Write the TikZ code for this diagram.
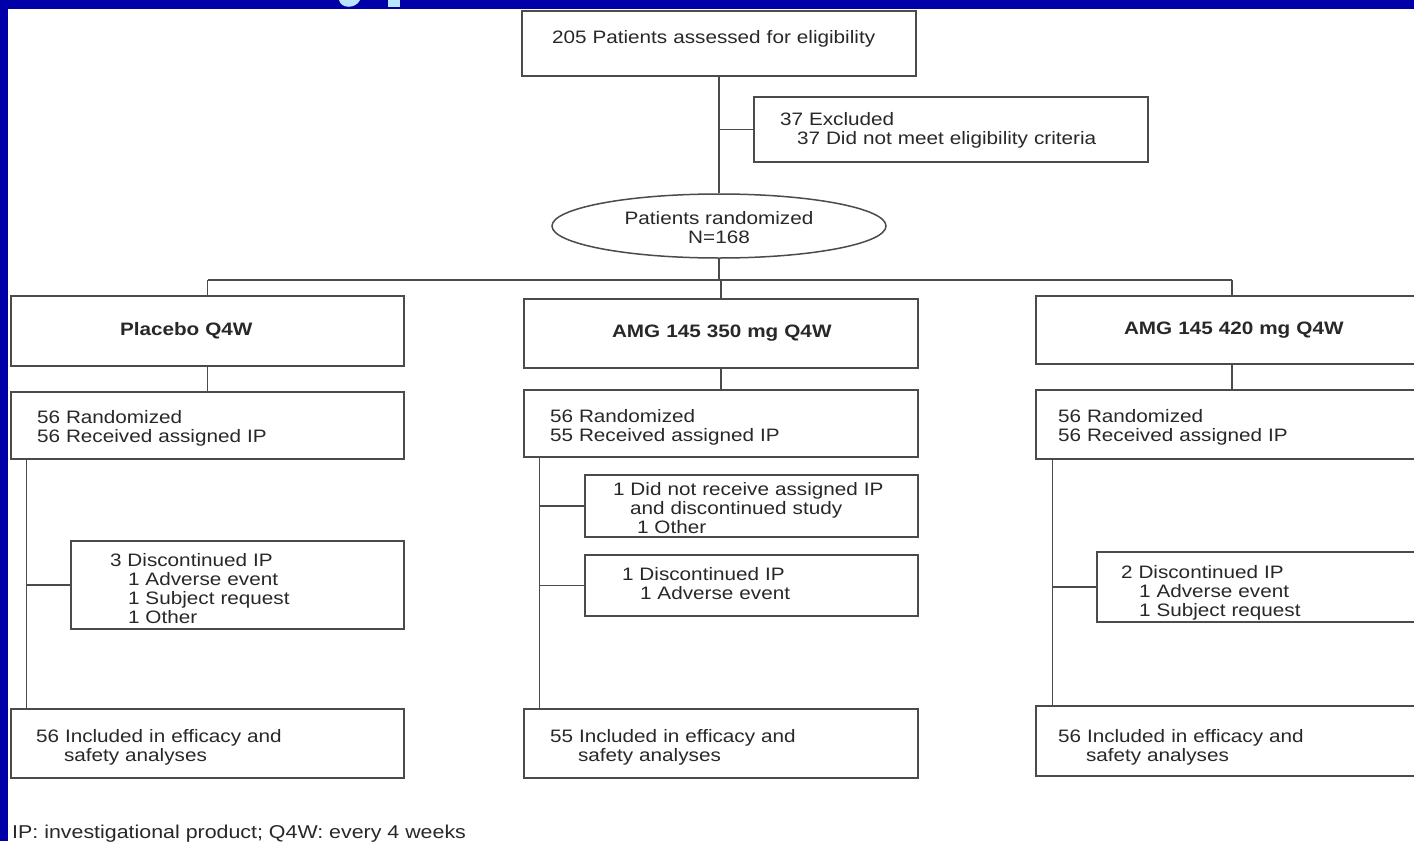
\documentclass[tikz,border=0pt]{standalone}
\usepackage{fontspec}
\setmainfont{Liberation Sans}[FakeStretch=1.15]
\usetikzlibrary{shapes.geometric}
\definecolor{slide}{RGB}{0,0,168}
\definecolor{title}{RGB}{185,230,255}
\definecolor{ink}{RGB}{40,40,40}
\definecolor{edge}{RGB}{75,75,75}
\begin{document}
\begin{tikzpicture}[x=1pt,y=-1pt,font=\fontsize{18}{19}\selectfont,
box/.style={draw=edge,line width=1.5pt,text=ink,inner sep=0pt,align=left},
lpad/.style={execute at begin node={\leftskip=#1pt}},
link/.style={draw=edge,line width=1.5pt}]
\useasboundingbox(0,0)rectangle(1414,841);
\fill[white](0,0)rectangle(1414,841);
\fill[slide](0,0)rectangle(1414,9);\fill[slide](0,0)rectangle(8,841);
\fill[title](339,0).. controls (341,9) and (356,9) ..(360,0)--cycle;\fill[title](388,0)rectangle(400,6.5);
% screening and randomization
\node[box,minimum width=394,minimum height=65,text width=394pt,lpad=30,text height=13pt,text depth=13pt](scr)at(719,43.5){205 Patients assessed for eligibility};
\node[box,minimum width=394,minimum height=65,text width=394pt,lpad=26,text height=15pt](exc)at(951,129.5){37 Excluded\\\hspace*{17pt}37 Did not meet eligibility criteria};
\node[box,ellipse,minimum width=334,minimum height=64,align=center,text height=35pt](rnd)at(719,226){Patients randomized\\N=168};
% treatment arms
\node[box,minimum width=393,minimum height=70,text width=393pt,lpad=109](a1)at(207.5,331){\textbf{Placebo Q4W}};
\node[box,minimum width=394,minimum height=69,text width=394pt,lpad=88](a2)at(721,333.5){\textbf{AMG 145 350 mg Q4W}};
\node[box,minimum width=392,minimum height=68,text width=392pt,lpad=88](a3)at(1232,330){\textbf{AMG 145 420 mg Q4W}};
\node[box,minimum width=393,minimum height=67,text width=393pt,lpad=26,text height=19pt](r1)at(207.5,425.5){56 Randomized\\56 Received assigned IP};
\node[box,minimum width=394,minimum height=67,text width=394pt,lpad=26,text height=21pt](r2)at(721,423.5){56 Randomized\\55 Received assigned IP};
\node[box,minimum width=392,minimum height=69,text width=392pt,lpad=22,text height=19pt](r3)at(1232,424.5){56 Randomized\\56 Received assigned IP};
% discontinuations
\node[box,minimum width=333,minimum height=88,text width=333pt,lpad=39,text height=21pt](d1)at(237.5,585){3 Discontinued IP\\\hspace*{18pt}1 Adverse event\\\hspace*{18pt}1 Subject request\\\hspace*{18pt}1 Other};
\node[box,minimum width=333,minimum height=62,text width=333pt,lpad=28,text height=17pt](d2)at(751.5,506){1 Did not receive assigned IP\\\hspace*{17pt}and discontinued study\\\hspace*{24pt}1 Other};
\node[box,minimum width=333,minimum height=61,text width=333pt,lpad=37,text height=9pt](d3)at(751.5,585.5){1 Discontinued IP\\\hspace*{18pt}1 Adverse event};
\node[box,minimum width=333,minimum height=70,text width=333pt,lpad=24,text height=25pt](d4)at(1263.5,587){2 Discontinued IP\\\hspace*{18pt}1 Adverse event\\\hspace*{18pt}1 Subject request};
% analyses
\node[box,minimum width=393,minimum height=69,text width=393pt,lpad=25,text height=21pt](i1)at(207.5,743.5){56 Included in efficacy and\\\hspace*{28pt}safety analyses};
\node[box,minimum width=394,minimum height=69,text width=394pt,lpad=26,text height=21pt](i2)at(721,743.5){55 Included in efficacy and\\\hspace*{28pt}safety analyses};
\node[box,minimum width=392,minimum height=70,text width=392pt,lpad=22,text height=25pt](i3)at(1232,741){56 Included in efficacy and\\\hspace*{28pt}safety analyses};
\node[text=ink,anchor=base west,inner sep=0pt,font=\fontsize{18.6}{19}\selectfont](note)at(12,838){IP: investigational product; Q4W: every 4 weeks};
% connectors
\coordinate(bar)at(719,280);
\draw[link](scr.south)--(rnd.north);\draw[link](scr.south|-exc.west)--(exc.west);
\draw[link](rnd.south)--(bar);\draw[link](bar-|a1.north)--(bar-|a3.north);
\foreach \i in {1,2,3}{\draw[link](bar-|a\i.north)--(a\i.north);\draw[link](a\i.south)--(r\i.north);}
\foreach \i/\d in {1/16,2/16,3/17}{\coordinate(s\i)at([xshift=\d]r\i.south west);\draw[link](s\i)--(s\i|-i\i.north);}
\foreach \s/\b in {s1/d1,s2/d2,s2/d3,s3/d4}\draw[link](\s|-\b.west)--(\b.west);
\end{tikzpicture}
\end{document}
